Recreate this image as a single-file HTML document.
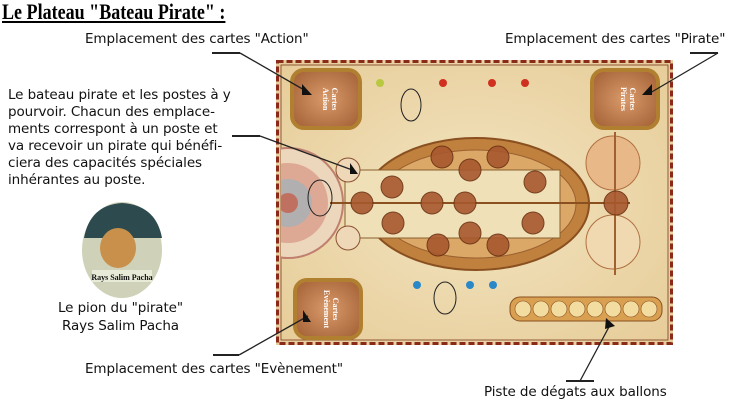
<!DOCTYPE html>
<html><head><meta charset="utf-8"><style>
body{margin:0;background:#fff;width:740px;height:409px;overflow:hidden;position:relative;font-family:"DejaVu Sans","Liberation Sans",sans-serif;}
.t{position:absolute;font-size:13.5px;color:#111;white-space:nowrap;letter-spacing:-0.1px}
</style></head><body>
<svg width="740" height="409" style="position:absolute;left:0;top:0">
<defs>
<radialGradient id="bg" cx="50%" cy="50%" r="70%"><stop offset="0" stop-color="#f3e4c0"/><stop offset="1" stop-color="#e6cc98"/></radialGradient>
<radialGradient id="ct" cx="50%" cy="50%" r="60%"><stop offset="0" stop-color="#d99a6a"/><stop offset="1" stop-color="#a8663a"/></radialGradient>
</defs>
<rect x="276" y="60" width="397" height="285" fill="url(#bg)"/>
<rect x="277.5" y="61.5" width="394" height="282" fill="none" stroke="#8a2a1a" stroke-width="3" stroke-dasharray="6 3"/>
<rect x="281" y="65" width="387" height="275" fill="none" stroke="#7a3a20" stroke-width="0.8"/>
<clipPath id="cb"><rect x="281" y="65" width="387" height="275"/></clipPath>
<g clip-path="url(#cb)">
<circle cx="288" cy="203" r="55" fill="#ecd6bc" stroke="#c08070" stroke-width="2"/>
<circle cx="288" cy="203" r="40" fill="#d89a88" opacity="0.75"/>
<circle cx="288" cy="203" r="24" fill="#a8b0b8" opacity="0.8"/>
<circle cx="288" cy="203" r="10" fill="#c07060"/>
</g>
<g fill="url(#ct)" stroke="#b08030" stroke-width="4">
<rect x="292" y="70" width="68" height="58" rx="12"/>
<rect x="592" y="70" width="66" height="58" rx="12"/>
<rect x="295" y="280" width="66" height="58" rx="12"/>
</g>
<g font-family="Liberation Serif,serif" font-size="8" fill="#fff" font-weight="bold">
<text transform="translate(332,99) rotate(90)" text-anchor="middle">Cartes</text>
<text transform="translate(323,99) rotate(90)" text-anchor="middle">Action</text>
<text transform="translate(630,99) rotate(90)" text-anchor="middle">Cartes</text>
<text transform="translate(621,99) rotate(90)" text-anchor="middle">Pirates</text>
<text transform="translate(333,309) rotate(90)" text-anchor="middle">Cartes</text>
<text transform="translate(324,309) rotate(90)" text-anchor="middle">Evènement</text>
</g>
<circle cx="613" cy="163" r="27" fill="#e8b888" stroke="#b07040"/>
<circle cx="613" cy="242" r="27" fill="#f0d8b0" stroke="#b07040"/>
<line x1="615" y1="132" x2="615" y2="275" stroke="#a06030" stroke-width="2"/>
<ellipse cx="476" cy="204" rx="113" ry="66" fill="#c0803e" stroke="#8a5020" stroke-width="2"/>
<ellipse cx="476" cy="204" rx="100" ry="54" fill="#dba868" stroke="#9a6030"/>
<rect x="345" y="170" width="215" height="68" fill="#f0e0b8" stroke="#8a6030"/>
<line x1="330" y1="203" x2="630" y2="203" stroke="#8a5020" stroke-width="2"/>
<circle cx="348" cy="170" r="12" fill="#eed8b8" stroke="#8a5030"/>
<circle cx="348" cy="238" r="12" fill="#eed8b8" stroke="#8a5030"/>
<g fill="#a8582e" stroke="#6a3010" opacity="0.9">
<circle cx="392" cy="187" r="11"/><circle cx="393" cy="223" r="11"/><circle cx="362" cy="203" r="11"/>
<circle cx="432" cy="203" r="11"/><circle cx="465" cy="203" r="11"/><circle cx="442" cy="157" r="11"/>
<circle cx="470" cy="170" r="11"/><circle cx="498" cy="157" r="11"/><circle cx="535" cy="182" r="11"/>
<circle cx="533" cy="223" r="11"/><circle cx="438" cy="245" r="11"/><circle cx="470" cy="233" r="11"/>
<circle cx="498" cy="245" r="11"/><circle cx="616" cy="203" r="12"/>
</g>
<ellipse cx="320" cy="198" rx="12" ry="18" fill="none" stroke="#222"/>
<ellipse cx="411" cy="105" rx="10" ry="16" fill="none" stroke="#222"/>
<ellipse cx="445" cy="298" rx="11" ry="16" fill="none" stroke="#222"/>
<circle cx="380" cy="83" r="4" fill="#b8c840"/>
<circle cx="443" cy="83" r="4" fill="#d03020"/><circle cx="492" cy="83" r="4" fill="#d03020"/><circle cx="525" cy="83" r="4" fill="#d03020"/>
<circle cx="417" cy="285" r="4" fill="#2a88c8"/><circle cx="470" cy="285" r="4" fill="#2a88c8"/><circle cx="493" cy="285" r="4" fill="#2a88c8"/>
<rect x="510" y="297" width="152" height="24" rx="10" fill="#d8a050" stroke="#8a5020"/>
<g fill="#f3dca0" stroke="#8a5020" stroke-width="0.6">
<circle cx="523" cy="309" r="8"/><circle cx="541" cy="309" r="8"/><circle cx="559" cy="309" r="8"/><circle cx="577" cy="309" r="8"/>
<circle cx="595" cy="309" r="8"/><circle cx="613" cy="309" r="8"/><circle cx="631" cy="309" r="8"/><circle cx="649" cy="309" r="8"/>
</g>
<ellipse cx="122" cy="250" rx="40" ry="48" fill="#cfd2b8"/>
<path d="M84 238 Q90 205 122 203 Q156 205 162 238 Z" fill="#2d4a4e"/>
<ellipse cx="118" cy="248" rx="18" ry="20" fill="#c8904a"/>
<rect x="92" y="270" width="60" height="12" fill="#e8ead8"/>
<text x="122" y="280" font-family="Liberation Serif,serif" font-size="8" font-weight="bold" text-anchor="middle" fill="#111">Rays Salim Pacha</text>
<g stroke="#222" stroke-width="1.3" fill="none">
<line x1="212" y1="53" x2="240" y2="53" stroke-width="2"/><line x1="240" y1="53" x2="306" y2="91"/>
<line x1="690" y1="53" x2="718" y2="53" stroke-width="2"/><line x1="718" y1="53" x2="650" y2="93"/>
<line x1="232" y1="136" x2="260" y2="136" stroke-width="2"/><line x1="260" y1="136" x2="355" y2="171"/>
<line x1="213" y1="355" x2="239" y2="355" stroke-width="2"/><line x1="239" y1="355" x2="308" y2="316"/>
<line x1="566" y1="381" x2="594" y2="381" stroke-width="2"/><line x1="580" y1="381" x2="610" y2="325"/>
</g>
<g fill="#111"><polygon points="302,84 312,95 302,95"/><polygon points="652,84 642,95 652,95"/><polygon points="350,163 358,174 350,174"/><polygon points="303,310 311,322 303,322"/><polygon points="606,318 615,326 605,329"/></g>
</svg>
<div style="position:absolute;left:2px;top:-1px;font-family:'Liberation Serif',serif;font-size:22px;font-weight:bold;transform:scaleX(0.82);transform-origin:left top;text-decoration:underline;white-space:nowrap">Le Plateau "Bateau Pirate" :</div>
<div class="t" style="left:85px;top:31px">Emplacement des cartes "Action"</div>
<div class="t" style="left:505px;top:31px">Emplacement des cartes "Pirate"</div>
<div class="t" style="left:8px;top:87px;line-height:17px">Le bateau pirate et les postes à y<br>pourvoir. Chacun des emplace-<br>ments correspont à un poste et<br>va recevoir un pirate qui bénéfi-<br>ciera des capacités spéciales<br>inhérantes au poste.</div>
<div class="t" style="left:58px;top:299px;line-height:18px;text-align:center">Le pion du "pirate"<br>Rays Salim Pacha</div>
<div class="t" style="left:85px;top:361px">Emplacement des cartes "Evènement"</div>
<div class="t" style="left:484px;top:384px">Piste de dégats aux ballons</div>
</body></html>
